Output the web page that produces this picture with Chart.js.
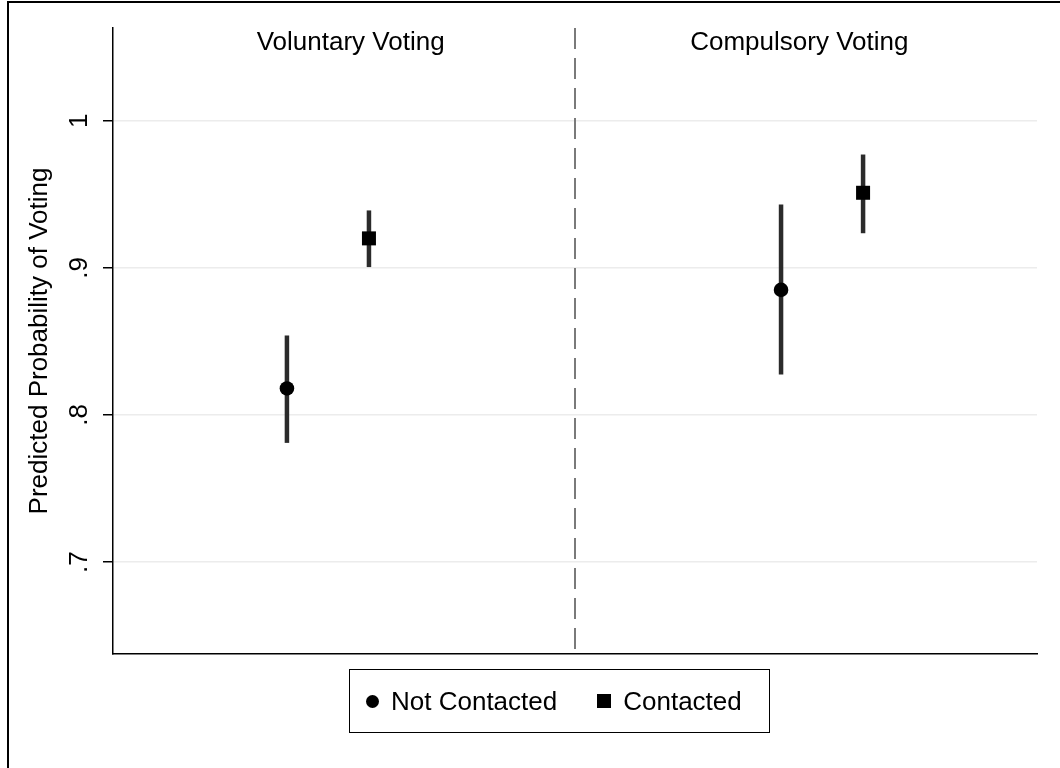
<!DOCTYPE html>
<html>
<head>
<meta charset="utf-8">
<script src="https://cdn.jsdelivr.net/npm/chart.js@4"></script>
<style>
  html, body { margin: 0; padding: 0; background: #fff; }
  #wrap { position: relative; width: 1060px; height: 768px; }
  #legend {
    position: absolute; left: 349px; top: 669px; width: 421px; height: 64px;
    box-sizing: border-box; border: 1.5px solid #000; padding-left: 16px;
    display: flex; align-items: center; white-space: nowrap;
    font: 26px 'Liberation Sans', Arial, sans-serif; color: #000;
  }
  .item { display: flex; align-items: center; flex: none; margin-right: 40px; }
  .mk { display: inline-block; flex: none; background: #000; margin-right: 12px; }
</style>
</head>
<body>
<div id="wrap">
  <canvas id="chart" width="1060" height="768"></canvas>
  <div id="legend"></div>
</div>
<script>
const groups = ['Voluntary Voting', 'Compulsory Voting'];
const headerPos = [0.046, 0.954];

const notContacted = [0.818, 0.885];
const notContactedLow = [0.781, 0.8275];
const notContactedHigh = [0.854, 0.943];

const contacted = [0.920, 0.951];
const contactedLow = [0.9005, 0.9235];
const contactedHigh = [0.939, 0.977];

const yTicks = [0.7, 0.8, 0.9, 1];
const yMin = 0.6375, yMax = 1.063;
const xMin = -0.435, xMax = 1.435;
const offset = 0.083;

Chart.defaults.font.family = "'Liberation Sans', Arial, sans-serif";
Chart.defaults.font.size = 26;
Chart.defaults.color = '#000';

function points(vals, dx) {
  return vals.map((v, i) => ({ x: i + dx, y: v }));
}

function ciBars(lo, hi, dx) {
  return lo.map((l, i) => ({
    data: [{ x: i + dx, y: l }, { x: i + dx, y: hi[i] }],
    showLine: true,
    borderColor: '#2b2b2b',
    borderWidth: 4.5,
    borderCapStyle: 'butt',
    pointRadius: 0
  }));
}

const datasets = [
  { label: 'Not Contacted', legend: 'circle', data: points(notContacted, -offset),
    pointStyle: 'circle', pointRadius: 7.3, backgroundColor: '#000', borderWidth: 0 },
  { label: 'Contacted', legend: 'square', data: points(contacted, offset),
    pointStyle: 'rect', pointRadius: 9.9, backgroundColor: '#000', borderWidth: 0 },
  ...ciBars(notContactedLow, notContactedHigh, -offset),
  ...ciBars(contactedLow, contactedHigh, offset),
  // dashed separator between the two panels
  { data: [{ x: 0.5, y: yMax }, { x: 0.5, y: yMin }], showLine: true,
    borderColor: '#7a7a7a', borderWidth: 2, borderDash: [21, 9], pointRadius: 0 }
];

const framePlugin = {
  id: 'frame',
  beforeDraw(chart) {
    const ctx = chart.ctx;
    ctx.save();
    ctx.fillStyle = '#fff';
    ctx.fillRect(0, 0, chart.width, chart.height);
    ctx.strokeStyle = '#000';
    ctx.lineWidth = 2;
    ctx.beginPath();
    ctx.moveTo(8, chart.height);
    ctx.lineTo(8, 2);
    ctx.lineTo(chart.width, 2);
    ctx.stroke();
    ctx.restore();
  }
};

const headerPlugin = {
  id: 'headers',
  afterDatasetsDraw(chart) {
    const { ctx, chartArea, scales } = chart;
    ctx.save();
    ctx.font = "26px 'Liberation Sans', Arial, sans-serif";
    ctx.fillStyle = '#000';
    ctx.textAlign = 'center';
    ctx.textBaseline = 'alphabetic';
    groups.forEach((g, i) => {
      ctx.fillText(g, scales.x.getPixelForValue(headerPos[i]), chartArea.top + 22);
    });
    ctx.restore();
  }
};

const htmlLegend = {
  id: 'htmlLegend',
  afterUpdate(chart) {
    const box = document.getElementById('legend');
    box.innerHTML = '';
    chart.data.datasets.filter(d => d.legend).forEach(d => {
      const item = document.createElement('span');
      item.className = 'item';
      const mk = document.createElement('span');
      mk.className = 'mk';
      if (d.legend === 'circle') {
        mk.style.width = '13px'; mk.style.height = '13px'; mk.style.borderRadius = '50%';
      } else {
        mk.style.width = '14px'; mk.style.height = '14px';
      }
      item.appendChild(mk);
      item.appendChild(document.createTextNode(d.label));
      box.appendChild(item);
    });
  }
};

new Chart(document.getElementById('chart'), {
  type: 'scatter',
  data: { datasets: datasets },
  plugins: [framePlugin, headerPlugin, htmlLegend],
  options: {
    responsive: false,
    animation: false,
    layout: { padding: { left: 8, top: 28, right: 23, bottom: 114 } },
    plugins: { legend: { display: false }, tooltip: { enabled: false } },
    scales: {
      x: {
        type: 'linear', min: xMin, max: xMax,
        ticks: { display: false },
        grid: { display: false, drawTicks: false },
        border: { color: '#000', width: 1.5 },
        afterFit: s => { s.height = 0; }
      },
      y: {
        type: 'linear', min: yMin, max: yMax,
        afterBuildTicks: s => { s.ticks = yTicks.map(v => ({ value: v })); },
        ticks: {
          minRotation: 90, maxRotation: 90, crossAlign: 'center', padding: 12,
          callback: v => String(v).replace(/^0\./, '.')
        },
        grid: { color: '#ececec', lineWidth: 1.5, tickLength: 10, tickColor: '#000', tickWidth: 1.5 },
        border: { color: '#000', width: 1.5 },
        title: { display: true, text: 'Predicted Probability of Voting', padding: { top: 16, bottom: 0 } },
        afterFit: s => { s.width = 105; }
      }
    }
  }
});
</script>
</body>
</html>
